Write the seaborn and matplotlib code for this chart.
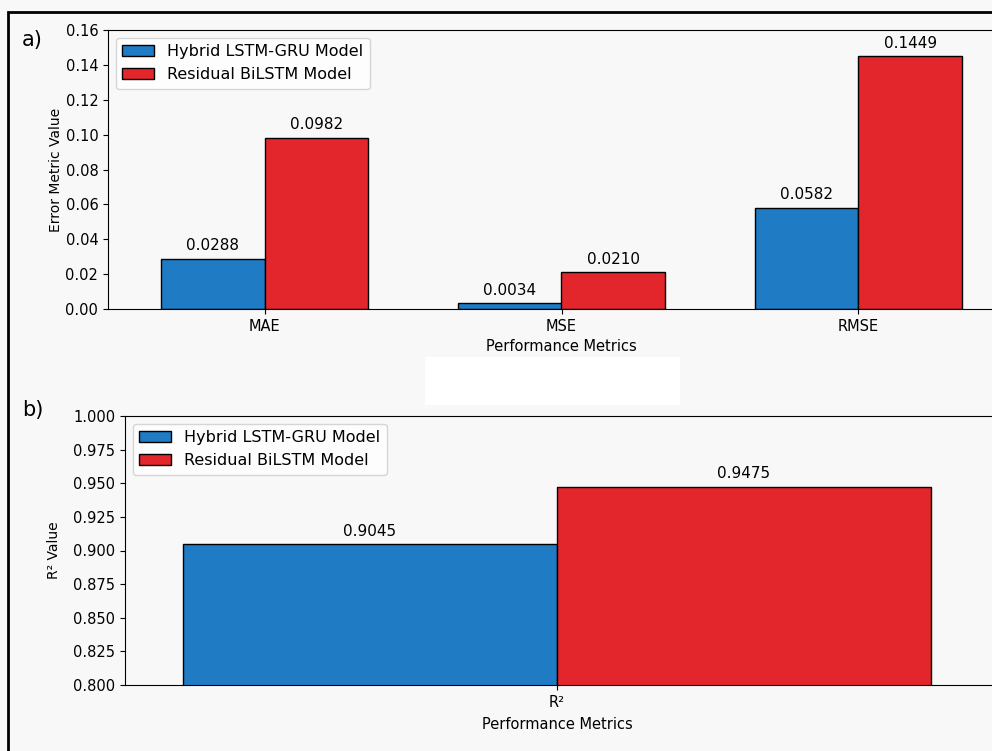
import pandas as pd
import matplotlib.pyplot as plt
import seaborn as sns
from matplotlib.patches import Rectangle

# Data
models = ['Hybrid LSTM-GRU Model', 'Residual BiLSTM Model']
error_metrics = ['MAE', 'MSE', 'RMSE']
hybrid_errors = [0.0288, 0.0034, 0.0582]
residual_errors = [0.0982, 0.0210, 0.1449]
r2_metrics = ['R²']
hybrid_r2 = [0.9045]
residual_r2 = [0.9475]

COLORS = ['#1f7bc4', '#e3262b']
BG = '#f8f8f8'


def long_frame(metrics, a, b):
    rows = []
    for m, v in zip(metrics, a):
        rows.append({'metric': m, 'model': models[0], 'value': v})
    for m, v in zip(metrics, b):
        rows.append({'metric': m, 'model': models[1], 'value': v})
    return pd.DataFrame(rows)


def annotate(ax):
    for cont in ax.containers:
        for bar in cont:
            h = bar.get_height()
            ax.annotate(f'{h:.4f}', (bar.get_x() + bar.get_width() / 2, h),
                        xytext=(0, 4), textcoords='offset points',
                        ha='center', va='bottom', fontsize=11)


sns.set_style('ticks')
plt.rcParams['font.family'] = ['DejaVu Sans']
plt.rcParams['axes.edgecolor'] = 'black'
plt.rcParams['text.color'] = 'black'
plt.rcParams['axes.labelcolor'] = 'black'
plt.rcParams['xtick.color'] = 'black'
plt.rcParams['ytick.color'] = 'black'

fig = plt.figure(figsize=(9.92, 7.51), dpi=100, facecolor=BG)

# outer frame and the white patch between panels
fig.add_artist(Rectangle((8 / 992, -0.1), 1.2, 1 - 12 / 751 + 0.1, transform=fig.transFigure,
                         fill=False, edgecolor='black', linewidth=2))
fig.add_artist(Rectangle((425 / 992, 1 - 405 / 751), 255 / 992, 48 / 751,
                         transform=fig.transFigure, facecolor='white', edgecolor='none'))

# a) error metrics
ax1 = fig.add_axes([108 / 992, 1 - 309 / 751, 907 / 992, 279 / 751])
ax1.set_facecolor(BG)
sns.barplot(data=long_frame(error_metrics, hybrid_errors, residual_errors),
            x='metric', y='value', hue='model', palette=COLORS, width=0.7, gap=0,
            edgecolor='black', linewidth=1, saturation=1, ax=ax1)
annotate(ax1)
ax1.set_xlim(-0.527, 2.527)
ax1.set_ylim(0, 0.16)
ax1.set_yticks([i * 0.02 for i in range(9)])
ax1.set_xlabel('Performance Metrics', fontsize=10.5)
ax1.set_ylabel('Error Metric Value', fontsize=10)
ax1.yaxis.set_label_coords(-0.05, 0.5)
ax1.tick_params(labelsize=10.5)
sns.move_legend(ax1, 'upper left', title=None, fontsize=11.5, frameon=True)
fig.text(22 / 992, 1 - 40 / 751, 'a)', fontsize=15, va='center')

# b) R²
ax2 = fig.add_axes([125 / 992, 1 - 685 / 751, 913 / 992, 269 / 751])
ax2.set_facecolor(BG)
sns.barplot(data=long_frame(r2_metrics, hybrid_r2, residual_r2),
            x='metric', y='value', hue='model', palette=COLORS, width=0.7, gap=0,
            edgecolor='black', linewidth=1, saturation=1, ax=ax2)
annotate(ax2)
ax2.set_xlim(-0.404, 0.45)
ax2.set_ylim(0.8, 1.0)
ax2.set_yticks([0.8 + i * 0.025 for i in range(9)])
ax2.set_yticklabels([f'{0.8 + i * 0.025:.3f}' for i in range(9)])
ax2.set_xlabel('Performance Metrics', fontsize=10.5)
ax2.xaxis.set_label_coords((557 - 125) / 913, -0.12)
ax2.set_ylabel('R² Value', fontsize=10)
ax2.yaxis.set_label_coords(-0.07, 0.5)
ax2.tick_params(labelsize=10.5)
sns.move_legend(ax2, 'upper left', title=None, fontsize=11.5, frameon=True)
fig.text(22 / 992, 1 - 410 / 751, 'b)', fontsize=15, va='center')

fig.savefig('out.png', dpi=100, facecolor=BG)
